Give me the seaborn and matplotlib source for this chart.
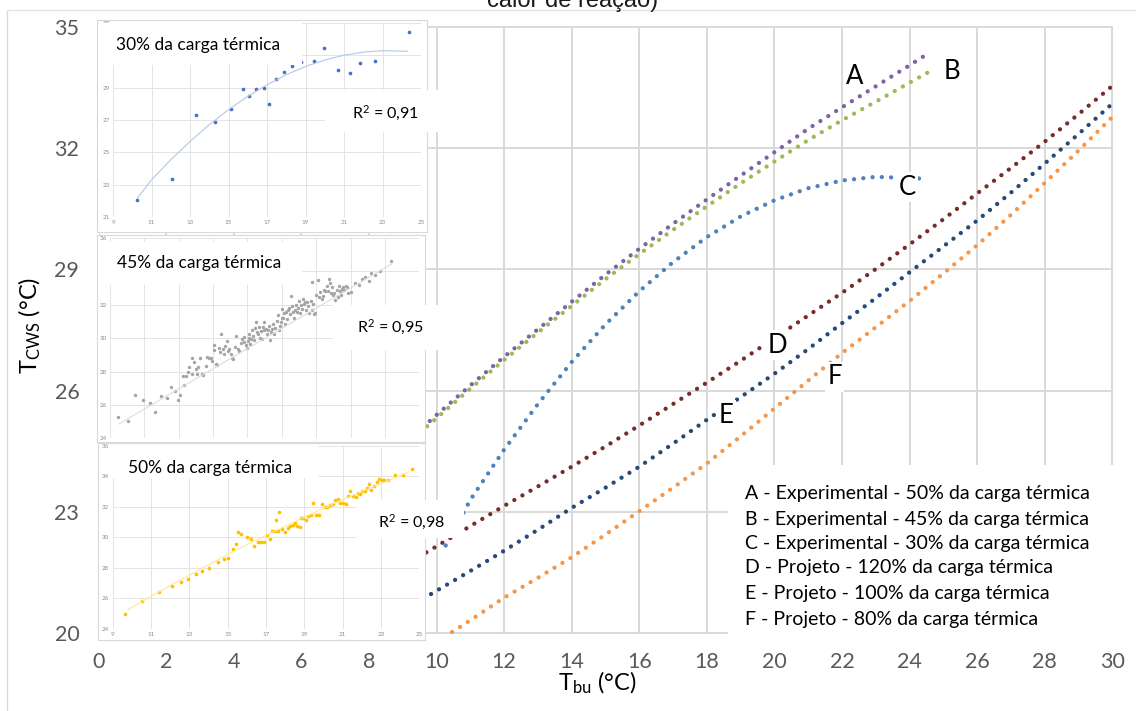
import matplotlib
matplotlib.use("Agg")
import matplotlib.pyplot as plt
import seaborn as sns
from matplotlib.patches import Rectangle
from matplotlib.lines import Line2D

# ---------------- data ----------------
x_ticks = list(range(0, 31, 2))
y_ticks = list(range(20, 36, 3))

A_x = [9.8, 10, 11, 12, 13, 14, 15, 16, 17, 18, 19, 20, 21, 22, 23, 24, 24.45]
A_y = [25.25, 25.40, 26.13, 26.84, 27.52, 28.20, 28.87, 29.51, 30.13, 30.73, 31.32, 31.90, 32.48, 33.01, 33.53, 34.05, 34.29]
B_x = [9.72, 10, 11, 12, 13, 14, 15, 16, 17, 18, 19, 20, 21, 22, 23, 24, 24.58]
B_y = [25.12, 25.32, 26.05, 26.76, 27.44, 28.10, 28.76, 29.38, 29.98, 30.56, 31.13, 31.67, 32.20, 32.69, 33.15, 33.62, 33.89]
C_x = [10.27, 11, 12, 13, 14, 15, 16, 17, 18, 19, 20, 21, 22, 23, 24.3]
C_y = [22.17, 23.30, 24.54, 25.67, 26.71, 27.64, 28.46, 29.18, 29.80, 30.31, 30.71, 31.01, 31.20, 31.29, 31.25]
D_x = [9.7, 10, 11, 12, 13, 14, 15, 16, 17, 18, 19, 20, 21, 22, 23, 24, 25, 26, 27, 28, 29, 30]
D_y = [22.00, 22.15, 22.65, 23.15, 23.63, 24.12, 24.62, 25.14, 25.67, 26.20, 26.74, 27.30, 27.86, 28.42, 29.01, 29.62, 30.24, 30.88, 31.51, 32.16, 32.84, 33.54]
E_x = [9.6, 10, 11, 12, 13, 14, 15, 16, 17, 18, 19, 20, 21, 22, 23, 24, 25, 26, 27, 28, 29, 30]
E_y = [20.85, 21.05, 21.54, 22.04, 22.56, 23.10, 23.60, 24.12, 24.69, 25.28, 25.84, 26.42, 27.03, 27.67, 28.29, 28.93, 29.57, 30.21, 30.90, 31.62, 32.35, 33.10]
F_x = [10.46, 11, 12, 13, 14, 15, 16, 17, 18, 19, 20, 21, 22, 23, 24, 25, 26, 27, 28, 29, 30]
F_y = [20.03, 20.32, 20.88, 21.37, 21.88, 22.44, 23.02, 23.60, 24.20, 24.87, 25.56, 26.25, 26.93, 27.57, 28.22, 28.90, 29.60, 30.35, 31.14, 31.94, 32.77]

curve_letters = ["A", "B", "C", "D", "E", "F"]
letter_x = [22.36, 25.24, 23.93, 20.10, 18.57, 21.78]
letter_y = [33.77, 33.89, 31.03, 27.12, 25.39, 26.34]

legend_lines = [
    "A - Experimental - 50% da carga térmica",
    "B - Experimental - 45% da carga térmica",
    "C - Experimental - 30% da carga térmica",
    "D - Projeto - 120% da carga térmica",
    "E - Projeto - 100% da carga térmica",
    "F - Projeto - 80% da carga térmica",
]

# inset 30 %
ins30_x = [10.27, 12.09, 13.32, 14.30, 15.15, 15.75, 16.08, 16.45, 16.83, 17.09, 17.45, 17.89,
           18.31, 18.77, 19.42, 19.97, 20.67, 21.33, 21.85, 22.59, 24.36]
ins30_y = [22.07, 23.36, 27.28, 26.87, 27.69, 28.89, 28.46, 28.89, 29.00, 28.00, 29.53, 30.00,
           30.34, 30.59, 30.65, 31.45, 30.07, 29.93, 30.55, 30.63, 32.47]
ins30_xticks = list(range(9, 26, 2))
ins30_yticks = list(range(21, 34, 2))

# inset 45 %
ins45_x = [9.48, 10.07, 10.44, 10.92, 11.34, 11.61, 11.95, 12.32, 12.53, 12.76, 12.93, 13.05, 13.22, 13.33,
           13.43, 13.56, 13.62, 13.76, 13.79, 13.91, 13.99, 14.04, 14.14, 14.24, 14.33, 14.41, 14.56, 14.66,
           14.75, 14.89, 14.94, 15.04, 15.06, 15.14, 15.23, 15.35, 15.40, 15.48, 15.56, 15.65, 15.71, 15.81,
           15.85, 15.94, 16.04, 16.10, 16.15, 16.25, 16.32, 16.44, 16.52, 16.61, 16.71, 16.77, 16.82, 16.90,
           16.98, 17.02, 17.07, 17.11, 17.17, 17.23, 17.28, 17.34, 17.40, 17.44, 17.49, 17.53, 17.59, 17.65,
           17.71, 17.76, 17.82, 17.88, 17.94, 17.99, 18.05, 18.13, 18.19, 18.24, 18.30, 18.36, 18.43, 18.51,
           18.57, 18.63, 18.70, 18.76, 18.82, 18.88, 18.94, 18.99, 19.03, 19.09, 19.14, 19.20, 19.26, 19.32,
           19.37, 19.43, 19.49, 19.53, 19.59, 19.64, 19.70, 19.76, 19.82, 19.87, 19.93, 19.99, 20.05, 20.10,
           20.16, 20.22, 20.28, 20.33, 20.41, 20.49, 20.54, 20.60, 20.68, 20.74, 20.77, 20.81, 20.87, 20.93,
           21.00, 21.08, 21.16, 21.23, 21.31, 21.39, 21.46, 21.54, 21.62, 21.69, 21.75, 21.81, 21.85, 21.91,
           21.98, 22.06, 22.12, 22.19, 22.25, 22.31, 22.37, 22.42, 22.50, 22.58, 22.63, 22.71, 22.77, 22.84,
           23.04, 23.27, 23.50, 23.65, 23.86, 24.05, 24.17, 24.40, 24.69, 25.36]
ins45_y = [25.25, 25.01, 26.59, 26.27, 26.11, 25.57, 26.55, 26.43, 27.06, 26.83, 26.31, 26.57, 27.74, 27.18,
           27.74, 27.96, 28.28, 27.84, 28.82, 28.58, 28.16, 27.84, 28.30, 28.84, 27.88, 27.82, 28.34, 28.88,
           28.84, 28.84, 28.66, 29.61, 29.29, 28.48, 28.42, 29.43, 29.17, 30.27, 29.37, 29.07, 29.53, 29.81,
           29.21, 29.35, 29.03, 28.82, 28.76, 29.47, 30.13, 29.35, 29.23, 29.71, 29.93, 30.05, 29.79, 29.59,
           29.41, 29.85, 30.03, 30.27, 29.67, 29.93, 30.47, 30.11, 29.87, 30.61, 30.97, 30.37, 30.23, 30.65,
           30.01, 30.43, 29.95, 30.69, 30.51, 30.97, 30.57, 30.23, 30.49, 30.75, 29.87, 30.35, 30.55, 30.83,
           30.27, 30.61, 31.05, 31.38, 30.47, 30.73, 30.97, 31.22, 31.74, 31.18, 31.50, 30.85, 31.54, 31.16,
           31.70, 31.82, 31.46, 32.50, 31.90, 31.56, 31.22, 31.66, 31.96, 31.58, 31.82, 32.22, 31.52, 31.96,
           31.76, 32.34, 32.02, 32.16, 31.66, 32.14, 31.90, 31.50, 32.24, 31.66, 33.35, 32.04, 31.42, 31.52,
           32.60, 33.49, 32.46, 32.74, 32.34, 32.54, 32.86, 32.82, 33.10, 32.80, 33.55, 33.31, 32.72, 33.06,
           32.56, 32.72, 32.30, 32.90, 32.46, 33.14, 32.82, 32.60, 32.96, 33.06, 32.86, 33.15, 33.09, 32.70,
           32.76, 33.29, 33.19, 33.53, 33.65, 33.45, 33.89, 33.79, 34.01, 34.61]
ins45_fit_x = [9.5, 25.4]
ins45_fit_y = [24.85, 34.45]
ins45_xticks = list(range(9, 28, 2))
ins45_yticks = list(range(24, 37, 2))

# inset 50 %
ins50_x = [9.64, 10.55, 11.43, 12.10, 12.58, 12.95, 13.33, 13.66, 14.03, 14.48, 14.79, 15.02, 15.26, 15.45,
           15.54, 15.71, 16.01, 16.20, 16.39, 16.57, 16.72, 16.90, 17.05, 17.21, 17.33, 17.47, 17.54, 17.61,
           17.70, 17.83, 17.99, 18.13, 18.27, 18.41, 18.51, 18.63, 18.76, 18.83, 18.95, 19.09, 19.21, 19.33,
           19.47, 19.61, 19.77, 19.92, 20.08, 20.20, 20.34, 20.50, 20.62, 20.74, 20.86, 21.00, 21.16, 21.28,
           21.40, 21.54, 21.68, 21.78, 21.90, 22.03, 22.15, 22.25, 22.37, 22.50, 22.62, 22.77, 22.90, 23.03,
           23.14, 23.35, 23.71, 24.17, 24.63]
ins50_y = [24.96, 25.82, 26.39, 26.82, 27.04, 27.26, 27.61, 27.79, 27.96, 28.36, 28.58, 28.66, 29.23, 29.56,
           30.33, 30.20, 30.04, 29.89, 29.43, 29.72, 29.72, 29.72, 30.17, 29.87, 30.39, 30.42, 31.16, 30.42,
           31.64, 30.55, 30.37, 30.59, 30.74, 30.79, 30.92, 30.74, 30.70, 31.27, 31.29, 31.14, 31.42, 31.49,
           32.28, 31.44, 31.47, 32.17, 31.97, 32.01, 32.10, 32.21, 32.43, 32.52, 32.23, 32.25, 32.21, 32.74,
           33.07, 32.72, 32.63, 32.89, 32.87, 33.07, 33.02, 33.26, 33.53, 33.11, 33.39, 33.66, 33.85, 33.79,
           33.77, 33.74, 34.07, 34.12, 34.47]
ins50_xticks = list(range(9, 26, 2))
ins50_yticks = list(range(24, 37, 2))

# ---------------- style ----------------
sns.set_theme(style="white")
plt.rcParams["font.family"] = ["Lato", "DejaVu Sans"]
plt.rcParams["mathtext.default"] = "regular"

W, H = 1136, 711
fig = plt.figure(figsize=(W / 100, H / 100), dpi=100)
fig.patch.set_facecolor("white")


def rect_px(l, t, r, b):
    return [l / W, 1 - b / H, (r - l) / W, (b - t) / H]


def fxy(px, py):
    return px / W, 1 - py / H


GRID = "#d9d9d9"
TXT = "#595959"

# ---------------- main axes ----------------
ax = fig.add_axes(rect_px(98.7, 25.7, 1113.3, 634))
ax.set_xlim(0, 30.03)
ax.set_ylim(19.98, 35.03)
ax.set_xticks(x_ticks)
ax.set_yticks(y_ticks)
ax.grid(True, color=GRID, lw=1.4)
ax.set_axisbelow(True)
for s in ax.spines.values():
    s.set_visible(False)
ax.tick_params(axis="both", length=0, labelsize=15.5, labelcolor=TXT)
ax.tick_params(axis="x", pad=13)
ax.tick_params(axis="y", pad=14)

dot = (0, (0.01, 2.15))
series = [
    (A_x, A_y, "#8064a2"),
    (B_x, B_y, "#9bbb59"),
    (C_x, C_y, "#4f81bd"),
    (D_x, D_y, "#772c2a"),
    (E_x, E_y, "#254a78"),
    (F_x, F_y, "#f79646"),
]
for xs, ys, col in series:
    sns.lineplot(x=xs, y=ys, ax=ax, color=col, lw=3.1, linestyle=dot,
                 dash_capstyle="round", sort=False)
ax.set_xlabel("")
ax.set_ylabel("")

for lab, lx, ly in zip(curve_letters, letter_x, letter_y):
    ax.text(lx, ly, lab, fontsize=18.5, color="black", ha="center", va="center",
            bbox=dict(boxstyle="square,pad=0.1", fc="white", ec="none"), zorder=5)

# ---------------- insets ----------------
def frame(l, t, r, b):
    fa = fig.add_axes(rect_px(l, t, r, b))
    fa.set_facecolor("white")
    fa.set_xticks([])
    fa.set_yticks([])
    for s in fa.spines.values():
        s.set_color("#d9d9d9")
        s.set_linewidth(0.8)
    return fa


def inset(rect, xlim, ylim, xt, yt):
    ia = fig.add_axes(rect_px(*rect))
    ia.set_facecolor("none")
    ia.set_xlim(*xlim)
    ia.set_ylim(*ylim)
    ia.set_xticks(xt)
    ia.set_yticks(yt)
    ia.grid(True, color="#e4e4e4", lw=0.7)
    ia.set_axisbelow(True)
    for s in ia.spines.values():
        s.set_visible(False)
    ia.tick_params(length=0, labelsize=4.5, labelcolor="#8c8c8c", pad=2.5)
    return ia


frame(97, 20, 427, 232)
i1 = inset((113, 23, 421, 217), (9, 25), (21, 33), ins30_xticks, ins30_yticks)
sns.lineplot(x=C_x, y=C_y, ax=i1, color="#b4c7e7", lw=0.8, sort=False)
sns.scatterplot(x=ins30_x, y=ins30_y, ax=i1, color="#4472c4", s=7, marker="o", linewidth=0)

frame(97, 235, 425, 442)
i2 = inset((110, 238, 419.3, 438.3), (9, 27), (24, 36), ins45_xticks, ins45_yticks)
i2.tick_params(axis="x", labelbottom=False)
sns.lineplot(x=ins45_fit_x, y=ins45_fit_y, ax=i2, color="#dcdcdc", lw=0.8, sort=False)
sns.scatterplot(x=ins45_x, y=ins45_y, ax=i2, color="#a5a5a5", s=6, marker="o", linewidth=0)

frame(98, 443, 425, 640)
i3 = inset((112.7, 446, 419.3, 628.7), (9, 25), (24, 36), ins50_xticks, ins50_yticks)
sns.lineplot(x=A_x, y=A_y, ax=i3, color="#ffe699", lw=0.8, sort=False)
sns.scatterplot(x=ins50_x, y=ins50_y, ax=i3, color="#ffc000", s=7, marker="o", linewidth=0)

for ia in (i1, i2, i3):
    ia.set_xlabel("")
    ia.set_ylabel("")


# ---------------- boxes & texts on top ----------------
def box(l, t, r, b):
    x0, y0 = fxy(l, b)
    fig.patches.append(Rectangle((x0, y0), (r - l) / W, (b - t) / H, transform=fig.transFigure,
                                 fc="white", ec="none", zorder=1))


# inset titles
box(100, 23, 302, 65)
fig.text(*fxy(116, 45), "30% da carga térmica", fontsize=12.5, color="black", va="center", ha="left")
box(99, 242, 302, 285)
fig.text(*fxy(117, 263), "45% da carga térmica", fontsize=12.5, color="black", va="center", ha="left")
box(110, 446, 318, 478)
fig.text(*fxy(128, 468), "50% da carga térmica", fontsize=12.5, color="black", va="center", ha="left")

# R² boxes
box(325, 90, 440, 132)
fig.text(*fxy(352, 113), r"R$^{2}$ = 0,91", fontsize=11.5, color="black", va="center", ha="left")
box(333, 305, 440, 350)
fig.text(*fxy(357, 327), r"R$^{2}$ = 0,95", fontsize=11.5, color="black", va="center", ha="left")
box(356, 500, 464, 538)
fig.text(*fxy(378, 522), r"R$^{2}$ = 0,98", fontsize=11.5, color="black", va="center", ha="left")

# legend box
box(728, 465, 1122, 646)
leg_y = [493, 519, 543, 568, 594, 620]
for line, py in zip(legend_lines, leg_y):
    fig.text(*fxy(745, py), line, fontsize=14, color="black", va="center", ha="left")

# axis titles
fig.text(*fxy(30, 325), r"T$_{CWS}$ (°C)", fontsize=17, color="black", rotation=90,
         va="center", ha="center")
fig.text(*fxy(597, 683), r"T$_{bu}$ (°C)", fontsize=17, color="black", va="center", ha="center")

# clipped chart title at the very top (only its lower part is visible, as in the reference)
fig.text(*fxy(573, 7), "calor de reação)", fontsize=17, color="#1a1a1a", va="baseline",
         ha="center", family=["Liberation Sans", "DejaVu Sans"])

# chart-area border
fig.add_artist(Line2D([7 / W, 7 / W], [0, 1 - 10 / H], transform=fig.transFigure, color="#d9d9d9", lw=1))
fig.add_artist(Line2D([7 / W, 1], [1 - 10 / H, 1 - 10 / H], transform=fig.transFigure, color="#e6e6e6", lw=1))

fig.savefig("out.png", dpi=100, facecolor="white")
